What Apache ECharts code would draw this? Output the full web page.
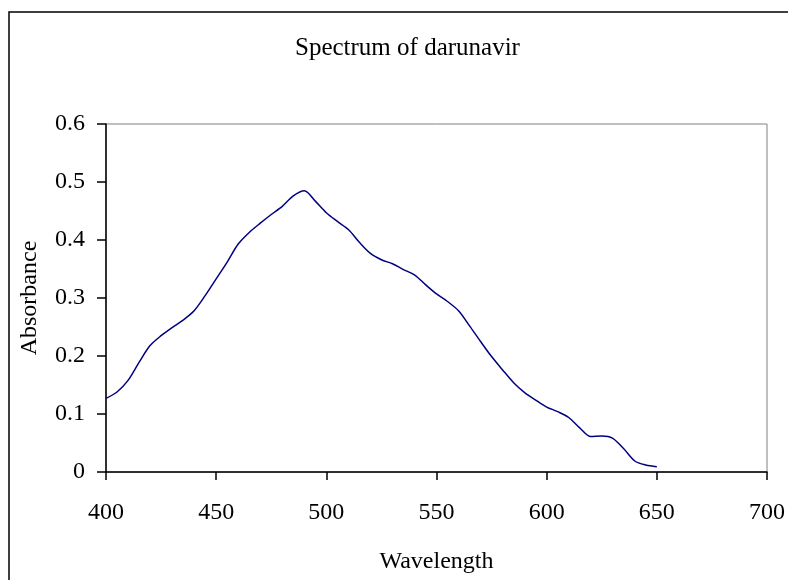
<!DOCTYPE html>
<html>
<head>
<meta charset="utf-8">
<script src="https://cdn.jsdelivr.net/npm/echarts@6/dist/echarts.min.js"></script>
<style>
html,body{margin:0;padding:0;background:#fff;}
#chart{width:788px;height:580px;}
</style>
</head>
<body>
<div id="chart"></div>
<script>
// Wavelength (nm)
const wavelengths = [400,405,410,415,420,425,430,435,440,445,450,455,460,465,470,475,480,485,490,495,500,505,510,515,520,525,530,535,540,545,550,555,560,565,570,575,580,585,590,595,600,605,610,615,620,625,630,635,640,645,650];
// Absorbance
const absorbance = [0.127,0.138,0.158,0.189,0.218,0.235,0.249,0.262,0.278,0.304,0.333,0.362,0.393,0.413,0.429,0.444,0.458,0.476,0.485,0.467,0.447,0.432,0.418,0.396,0.377,0.366,0.359,0.349,0.340,0.323,0.307,0.294,0.278,0.252,0.225,0.199,0.176,0.154,0.137,0.124,0.112,0.104,0.094,0.076,0.061,0.062,0.058,0.040,0.019,0.012,0.009];
const titleText = 'Spectrum of darunavir';
const xName = 'Wavelength';
const yName = 'Absorbance';

const font = '"Liberation Serif", "Times New Roman", serif';
const chart = echarts.init(document.getElementById('chart'));
chart.setOption({
  animation: false,
  backgroundColor: '#fff',
  title: {
    text: titleText,
    left: 295,
    top: 36,
    padding: 0,
    textStyle: {fontFamily: font, fontSize: 25, fontWeight: 'normal', color: '#000'}
  },
  graphic: [{
    type: 'rect',
    shape: {x: 9, y: 12, width: 900, height: 700},
    style: {fill: 'none', stroke: '#000', lineWidth: 1.5},
    silent: true
  }],
  grid: {
    left: 106, right: 16, top: 124, bottom: 108,
    show: true, borderColor: '#808080', borderWidth: 1, backgroundColor: 'transparent'
  },
  xAxis: {
    type: 'value', min: 400, max: 700, interval: 50,
    name: xName, nameLocation: 'middle', nameGap: 78,
    nameTextStyle: {fontFamily: font, fontSize: 24, color: '#000'},
    axisLine: {show: true, onZero: false, lineStyle: {color: '#000', width: 1.5}},
    axisTick: {show: true, length: 8, lineStyle: {color: '#000', width: 1.5}},
    axisLabel: {margin: 29, fontFamily: font, fontSize: 24, color: '#000'},
    splitLine: {show: false}
  },
  yAxis: {
    type: 'value', min: 0, max: 0.6, interval: 0.1,
    name: yName, nameLocation: 'middle', nameGap: 64,
    nameTextStyle: {fontFamily: font, fontSize: 24, color: '#000'},
    axisLine: {show: true, lineStyle: {color: '#000', width: 1.5}},
    axisTick: {show: true, length: 9, lineStyle: {color: '#000', width: 1.5}},
    axisLabel: {margin: 21, fontFamily: font, fontSize: 24, color: '#000'},
    splitLine: {show: false}
  },
  series: [{
    type: 'line',
    data: wavelengths.map((w, i) => [w, absorbance[i]]),
    showSymbol: false,
    smooth: 0.3,
    lineStyle: {color: '#000080', width: 1.5}
  }]
});
</script>
</body>
</html>
